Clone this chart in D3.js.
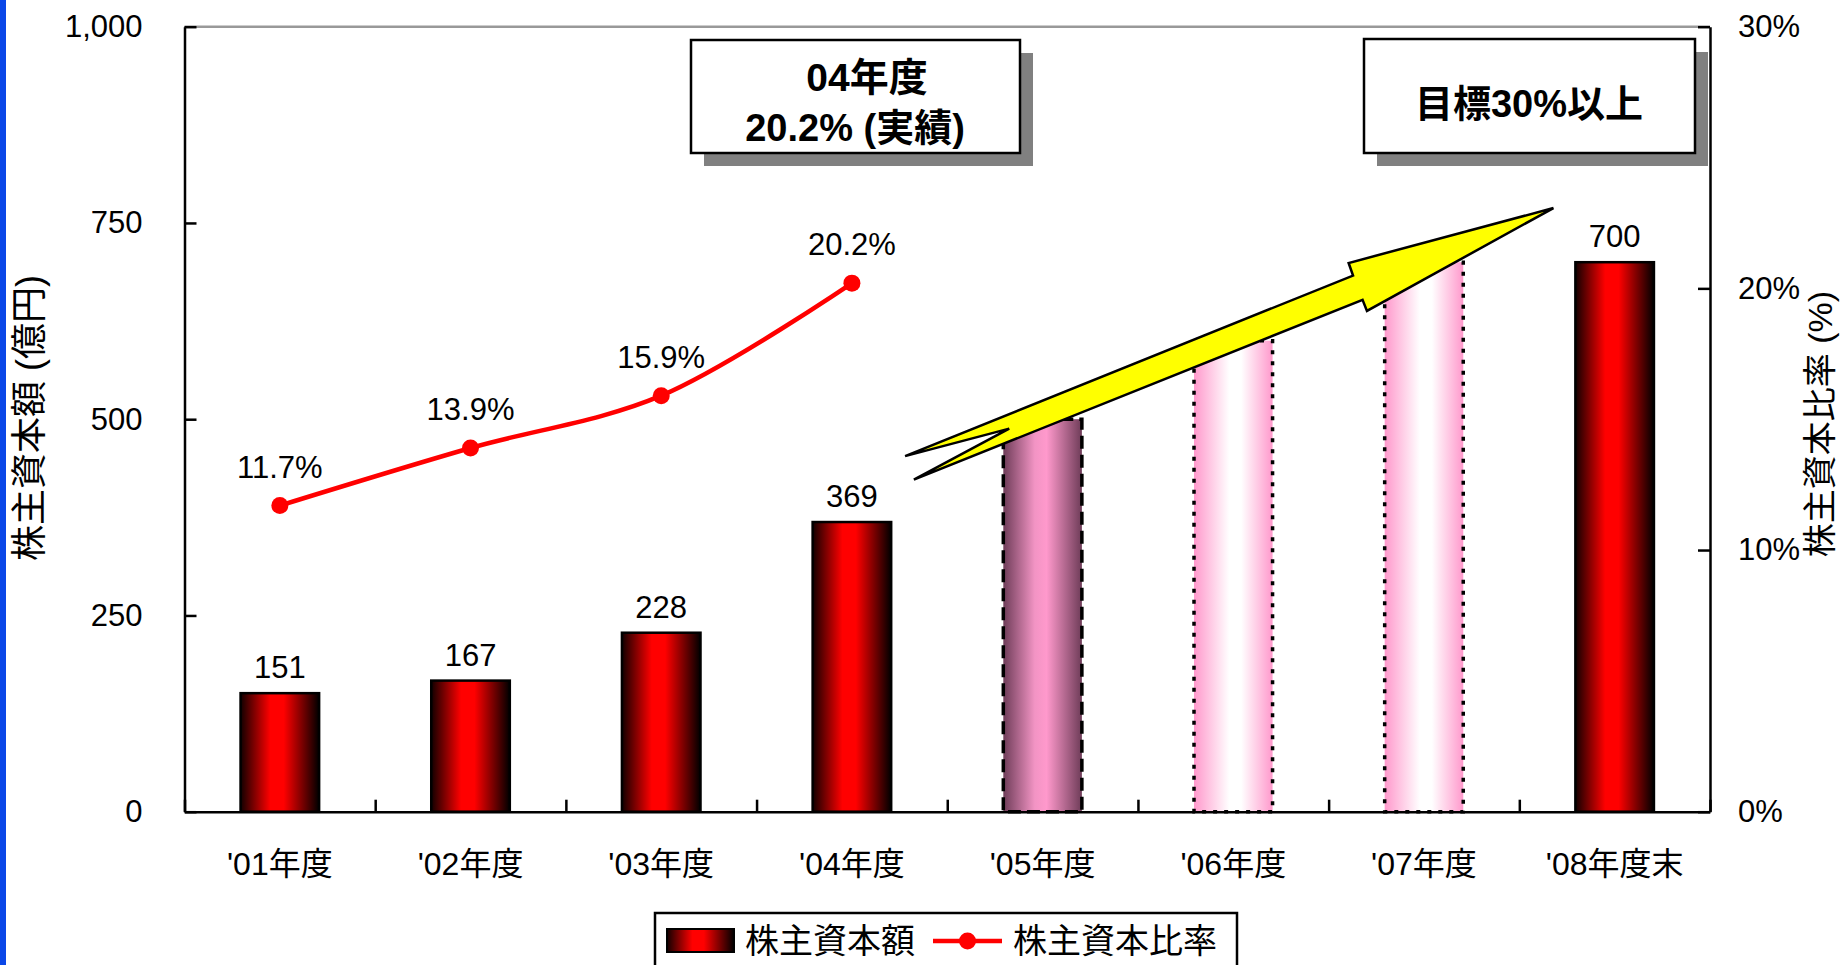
<!DOCTYPE html>
<html>
<head>
<meta charset="utf-8">
<script src="https://d3js.org/d3.v7.min.js"></script>
<style>
  body { margin: 0; background: #fff; }
  svg text { font-family: "Liberation Sans", Arial, "Noto Sans CJK JP", sans-serif; fill: #000; }
</style>
</head>
<body>
<svg id="chart" width="1842" height="965"></svg>
<script>
// chart data
const categories = ["'01年度", "'02年度", "'03年度", "'04年度", "'05年度", "'06年度", "'07年度", "'08年度末"];
const equity = [151, 167, 228, 369, 500, 600, 700, 700];          // 株主資本額 (億円)
const equityLabelShown = [true, true, true, true, false, false, false, true];
const ratio = [11.7, 13.9, 15.9, 20.2];                              // 株主資本比率 (%), '01-'04
const yTicks = [0, 250, 500, 750, 1000];
const y2Ticks = [0, 10, 20, 30];
const targetText = "目標30%以上";
// arrow outline: [position in category steps from the left edge, 億円]
const arrowOutline = [[3.779, 453], [6.128, 683], [6.105, 699], [7.179, 769],
                      [6.201, 638], [6.178, 652], [3.825, 423], [4.325, 488]];

const svg = d3.select("#chart");
const W = 1842, H = 965;
const plotLeft = 184.5, plotRight = 1710, plotTop = 26.7, plotBottom = 811.7;

svg.append("rect").attr("width", W).attr("height", H).attr("fill", "#fff");
svg.append("rect").attr("x", 0).attr("y", 0).attr("width", 6).attr("height", H).attr("fill", "#0b47e8");

// gradients
const defs = svg.append("defs");
function grad(id, stops) {
  const g = defs.append("linearGradient").attr("id", id).attr("x1", 0).attr("x2", 1).attr("y1", 0).attr("y2", 0);
  stops.forEach(function(s) { g.append("stop").attr("offset", s[0]).attr("stop-color", s[1]); });
}
grad("gRed", [[0, "#120000"], [0.38, "#ff0000"], [0.55, "#ff0000"], [1, "#000000"]]);
grad("gMauve", [[0, "#6e3c58"], [0.4, "#f294c4"], [0.55, "#ff99cc"], [1, "#6e3c58"]]);
grad("gPink", [[0, "#ff99cc"], [0.45, "#ffffff"], [0.6, "#ffffff"], [1, "#ff99cc"]]);

const x = d3.scaleBand().domain(categories).range([plotLeft, plotRight]).paddingInner(0.588).paddingOuter(0.294);
const step = (plotRight - plotLeft) / categories.length;
const xb = d3.scaleLinear().domain([0, categories.length]).range([plotLeft, plotRight]);
const y = d3.scaleLinear().domain([0, 1000]).range([plotBottom, plotTop]);
const y2 = d3.scaleLinear().domain([0, 30]).range([plotBottom, plotTop]);
const cx = function(c) { return x(c) + x.bandwidth() / 2; };

// plot area top border
svg.append("line").attr("x1", plotLeft).attr("x2", plotRight).attr("y1", plotTop).attr("y2", plotTop)
  .attr("stroke", "#999").attr("stroke-width", 2.5);

// bars
function barFill(i) { return i === 4 ? "url(#gMauve)" : (i === 5 || i === 6) ? "url(#gPink)" : "url(#gRed)"; }
function barDash(i) { return i === 4 ? "13,6" : (i === 5 || i === 6) ? "4,7" : null; }
svg.append("g").selectAll("rect")
  .data(categories)
  .enter().append("rect")
    .attr("x", function(d) { return x(d); })
    .attr("y", function(d, i) { return y(equity[i]); })
    .attr("width", x.bandwidth())
    .attr("height", function(d, i) { return plotBottom - y(equity[i]); })
    .attr("fill", function(d, i) { return barFill(i); })
    .attr("stroke", "#000")
    .attr("stroke-width", function(d, i) { return (i >= 4 && i <= 6) ? 3.5 : 2.5; })
    .attr("stroke-dasharray", function(d, i) { return barDash(i); });

// axes
function styleAxis(g) {
  g.attr("font-size", null).attr("font-family", null);
  g.selectAll("path, line").attr("stroke", "#000").attr("stroke-width", 2.5);
  g.selectAll("text").attr("font-size", 31).attr("fill", "#000");
}
svg.append("g")
  .attr("transform", "translate(0," + plotBottom + ")")
  .call(d3.axisBottom(xb).tickValues(d3.range(0, categories.length + 1)).tickFormat("").tickSizeInner(-12).tickSizeOuter(0))
  .call(styleAxis);
svg.append("g")
  .attr("transform", "translate(" + plotLeft + ",0)")
  .call(d3.axisLeft(y).tickValues(yTicks).tickFormat(d3.format(",")).tickSizeInner(-12).tickSizeOuter(0).tickPadding(42))
  .call(styleAxis);
svg.append("g")
  .attr("transform", "translate(" + plotRight + ",0)")
  .call(d3.axisRight(y2).tickValues(y2Ticks).tickFormat(function(d) { return d + "%"; }).tickSizeInner(-12).tickSizeOuter(0).tickPadding(28))
  .call(styleAxis);

// category labels
svg.append("g").selectAll("text")
  .data(categories)
  .enter().append("text")
    .attr("x", cx)
    .attr("y", 864)
    .attr("text-anchor", "middle")
    .attr("dominant-baseline", "central")
    .attr("font-size", 32)
    .text(function(d) { return d; });

// bar value labels
svg.append("g").selectAll("text")
  .data(categories.filter(function(d, i) { return equityLabelShown[i]; }))
  .enter().append("text")
    .attr("x", cx)
    .attr("y", function(d) { return y(equity[categories.indexOf(d)]) - 15; })
    .attr("text-anchor", "middle")
    .attr("font-size", 31)
    .text(function(d) { return equity[categories.indexOf(d)]; });

// ratio line
const line = d3.line()
  .x(function(d, i) { return cx(categories[i]); })
  .y(function(d) { return y2(d); })
  .curve(d3.curveCatmullRom.alpha(0.5));
svg.append("path").datum(ratio)
  .attr("d", line).attr("fill", "none").attr("stroke", "#ff0000").attr("stroke-width", 4.5);
svg.append("g").selectAll("circle")
  .data(ratio)
  .enter().append("circle")
    .attr("cx", function(d, i) { return cx(categories[i]); })
    .attr("cy", function(d) { return y2(d); })
    .attr("r", 8.5)
    .attr("fill", "#ff0000");
svg.append("g").selectAll("text")
  .data(ratio)
  .enter().append("text")
    .attr("x", function(d, i) { return cx(categories[i]); })
    .attr("y", function(d) { return y2(d) - 28; })
    .attr("text-anchor", "middle")
    .attr("font-size", 31)
    .text(function(d) { return d3.format(".1f")(d) + "%"; });

// growth arrow
svg.append("path")
  .datum(arrowOutline)
  .attr("d", d3.line().x(function(d) { return plotLeft + d[0] * step; }).y(function(d) { return y(d[1]); }).curve(d3.curveLinearClosed))
  .attr("fill", "#ffff00").attr("stroke", "#000").attr("stroke-width", 2.5).attr("stroke-linejoin", "miter");

// callout boxes
function callout(bx, by, bw, bh) {
  svg.append("rect").attr("x", bx + 13).attr("y", by + 13).attr("width", bw).attr("height", bh).attr("fill", "#808080");
  svg.append("rect").attr("x", bx).attr("y", by).attr("width", bw).attr("height", bh)
    .attr("fill", "#fff").attr("stroke", "#000").attr("stroke-width", 2.5);
}
callout(691, 40, 329, 113);
svg.append("text").attr("x", 867).attr("y", 91).attr("text-anchor", "middle")
  .attr("font-size", 39).attr("font-weight", "bold").text(categories[3].slice(1));
svg.append("text").attr("x", 855).attr("y", 141).attr("text-anchor", "middle")
  .attr("font-size", 38).attr("font-weight", "bold").text(d3.format(".1f")(ratio[3]) + "% (実績)");
callout(1364, 39, 331, 114);
svg.append("text").attr("x", 1529).attr("y", 117).attr("text-anchor", "middle")
  .attr("font-size", 38).attr("font-weight", "bold").text(targetText);

// axis titles
svg.append("text").attr("transform", "translate(29,418) rotate(-90)")
  .attr("text-anchor", "middle").attr("dominant-baseline", "central").attr("font-size", 36)
  .text("株主資本額 (億円)");
svg.append("text").attr("transform", "translate(1820,424) rotate(-90)")
  .attr("text-anchor", "middle").attr("dominant-baseline", "central").attr("font-size", 34)
  .text("株主資本比率 (%)");

// legend
const lg = svg.append("g");
lg.append("rect").attr("x", 655).attr("y", 913).attr("width", 582).attr("height", 80)
  .attr("fill", "#fff").attr("stroke", "#000").attr("stroke-width", 2.5);
lg.append("rect").attr("x", 667).attr("y", 929).attr("width", 67).attr("height", 23)
  .attr("fill", "url(#gRed)").attr("stroke", "#000").attr("stroke-width", 2);
lg.append("text").attr("x", 745).attr("y", 941).attr("dominant-baseline", "central").attr("font-size", 34).text("株主資本額");
lg.append("line").attr("x1", 933).attr("x2", 1002).attr("y1", 941).attr("y2", 941)
  .attr("stroke", "#ff0000").attr("stroke-width", 4.5);
lg.append("circle").attr("cx", 967.5).attr("cy", 941).attr("r", 8.5).attr("fill", "#ff0000");
lg.append("text").attr("x", 1013).attr("y", 941).attr("dominant-baseline", "central").attr("font-size", 34).text("株主資本比率");
</script>
</body>
</html>
